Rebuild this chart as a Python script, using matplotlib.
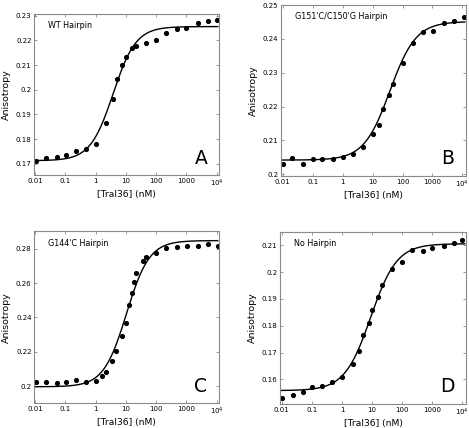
import numpy as np
import matplotlib
matplotlib.use("Agg")
import matplotlib.pyplot as plt
from matplotlib.ticker import FixedLocator, FixedFormatter, FuncFormatter, NullLocator

# ---- data ----
xA = [0.0105, 0.023, 0.052, 0.105, 0.23, 0.5, 1.05, 2.2, 3.7, 5.1, 7.6, 10.5, 16, 22, 48, 97, 215, 480, 1000, 2500, 5000, 10500]
yA = [0.1711, 0.1724, 0.1727, 0.1734, 0.1751, 0.1758, 0.1781, 0.1864, 0.1962, 0.2042, 0.2099, 0.2134,
      0.2168, 0.2178, 0.2191, 0.2200, 0.2228, 0.2246, 0.2249, 0.2270, 0.2280, 0.2284]

xB = [0.01, 0.021, 0.048, 0.099, 0.21, 0.48, 1.0, 2.2, 4.8, 10, 16, 22, 36, 47, 100, 220, 490, 1070, 2500, 5400, 11000]
yB = [0.2029, 0.2047, 0.2029, 0.2044, 0.2044, 0.2044, 0.2051, 0.2060, 0.2081, 0.2118, 0.2147, 0.2194,
      0.2235, 0.2268, 0.2329, 0.2387, 0.2421, 0.2424, 0.2447, 0.2454, 0.2465]

xC = [0.0105, 0.023, 0.052, 0.105, 0.23, 0.5, 1.0, 1.63, 2.2, 3.6, 4.8, 7.4, 10, 12.9, 15.8, 19, 22,
      36, 48, 98, 220, 500, 1020, 2500, 5300, 10700]
yC = [0.2025, 0.2025, 0.2017, 0.2025, 0.2035, 0.2027, 0.2031, 0.2060, 0.2081, 0.2147, 0.2207, 0.2291,
      0.2366, 0.2473, 0.2541, 0.2607, 0.2657, 0.2731, 0.2750, 0.2773, 0.2802, 0.2810, 0.2816, 0.2818,
      0.2826, 0.2818]

xD = [0.01, 0.0227, 0.051, 0.101, 0.223, 0.478, 1.0, 2.25, 3.56, 4.96, 7.6, 9.8, 16, 22, 47.5, 99,
      214, 480, 1000, 2400, 5100, 10000]
yD = [0.1532, 0.1542, 0.1554, 0.1570, 0.1576, 0.1589, 0.1610, 0.1657, 0.1707, 0.1767, 0.1810, 0.1857,
      0.1908, 0.1953, 0.2012, 0.2039, 0.2083, 0.2080, 0.2091, 0.2099, 0.2107, 0.2121]

# fitted curve parameters (bottom, top, K, n)
fitA = (0.1712, 0.2256, 3.8, 1.15)
fitB = (0.2042, 0.2451, 38.0, 1.0)
fitC = (0.1997, 0.2847, 10.5, 1.15)
fitD = (0.1558, 0.2106, 9.0, 1.0)

titles = ["WT Hairpin", "G151'C/C150'G Hairpin", "G144'C Hairpin", "No Hairpin"]
letters = ["A", "B", "C", "D"]
xticks = [0.01, 0.1, 1, 10, 100, 1000, 10000]
xticklabels = ["0.01", "0.1", "1", "10", "100", "1000", r"10$^4$"]
yticksA = [0.17, 0.18, 0.19, 0.20, 0.21, 0.22, 0.23]
yticksB = [0.20, 0.21, 0.22, 0.23, 0.24, 0.25]
yticksC = [0.20, 0.22, 0.24, 0.26, 0.28]
yticksD = [0.16, 0.17, 0.18, 0.19, 0.20, 0.21]

W, H = 469, 428
fig = plt.figure(figsize=(W / 100, H / 100), dpi=100)

def rect(l, r, t, b):
    return [l / W, 1 - b / H, (r - l) / W, (b - t) / H]

panels = [
    (rect(34.3, 219.3, 14, 175), xA, yA, fitA, yticksA, (0.1654, 0.2307), (0.0095, 1.22e4)),
    (rect(281, 466.3, 5, 176), xB, yB, fitB, yticksB, (0.1995, 0.2500), (0.0087, 1.35e4)),
    (rect(34.3, 219.3, 231.3, 403.3), xC, yC, fitC, yticksC, (0.1901, 0.2901), (0.0095, 1.22e4)),
    (rect(280, 466.3, 231.7, 404), xD, yD, fitD, yticksD, (0.1508, 0.2151), (0.0087, 1.35e4)),
]

grey = "#8a8a8a"
for i, (r, xs, ys, fit, yt, ylim, xlim) in enumerate(panels):
    ax = fig.add_axes(r)
    ax.set_xscale("log")
    ax.set_xlim(*xlim)
    ax.set_ylim(*ylim)
    xx = np.logspace(np.log10(xlim[0]), np.log10(xlim[1]) - 0.05, 400)
    b, t, K, n = fit
    ax.plot(xx, b + (t - b) * xx**n / (K**n + xx**n), color="black", lw=1.0)
    ax.plot(xs, ys, "o", color="black", ms=2.7, mec="black")
    ax.xaxis.set_major_locator(FixedLocator(xticks))
    ax.xaxis.set_major_formatter(FixedFormatter(xticklabels))
    ax.xaxis.set_minor_locator(NullLocator())
    ax.yaxis.set_major_locator(FixedLocator(yt))
    ax.yaxis.set_major_formatter(FuncFormatter(lambda v, p: "%g" % round(v, 4)))
    ax.tick_params(direction="in", which="both", top=True, right=True, length=2.5,
                   width=0.6, color=grey, labelsize=5.0, pad=2.0)
    for s in ax.spines.values():
        s.set_color(grey)
        s.set_linewidth(0.8)
    ax.set_xlabel("[TraI36] (nM)", fontsize=6.6, labelpad=0.5)
    ax.set_ylabel("Anisotropy", fontsize=6.8, labelpad=3.5)
    ax.text(0.075, 0.93, titles[i], transform=ax.transAxes, fontsize=5.8, va="center", ha="left")
    ax.text(0.935, 0.045, letters[i], transform=ax.transAxes, fontsize=13.5, va="bottom", ha="right")

fig.savefig("out.png", dpi=100)
